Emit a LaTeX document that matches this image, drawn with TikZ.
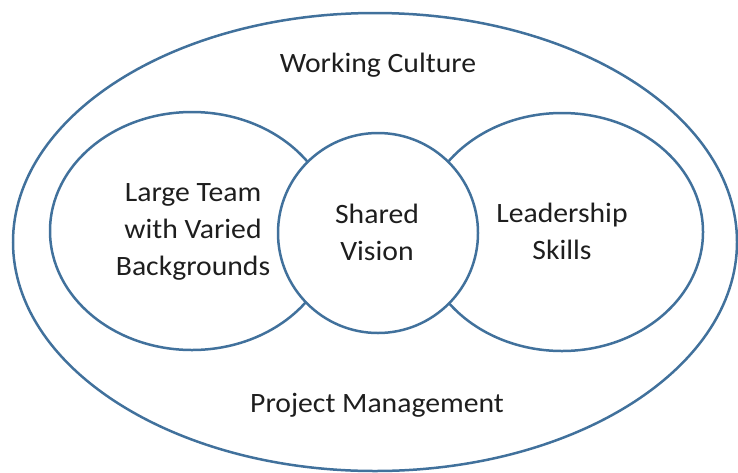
\documentclass[tikz,border=0pt]{standalone}
\usepackage{fontspec}
\setmainfont[FakeStretch=1.06]{Carlito}
\definecolor{ringblue}{HTML}{41719C}
\definecolor{txtgray}{HTML}{1E1E1E}

\begin{document}
\begin{tikzpicture}[x=1pt,y=-1pt,
  ring/.style={draw=ringblue, line width=2.5pt},
  lbl/.style={text=txtgray, font=\fontsize{28}{37}\selectfont, align=center}]

\useasboundingbox (0,0) rectangle (738,472);

% outer ring and the two side rings
\draw [ring] (375,242) ellipse [x radius=362, y radius=229];
\draw [ring] (192,231) ellipse [x radius=142, y radius=119];
\draw [ring] (562,232) ellipse [x radius=141, y radius=119];

% middle circle covers the overlaps
\draw [ring, fill=white] (378,233) circle [radius=100];

\node [lbl] (culture) at (378,65) {Working Culture};
\node [lbl] (team) at (193,232) {Large Team\\with Varied\\Backgrounds};
\node [lbl] (vision) at (377,232) {Shared\\Vision};
\node [lbl] (lead) at (562,231) {Leadership\\Skills};
\node [lbl] (pm) at (377,405) {Project Management};

\end{tikzpicture}
\end{document}
